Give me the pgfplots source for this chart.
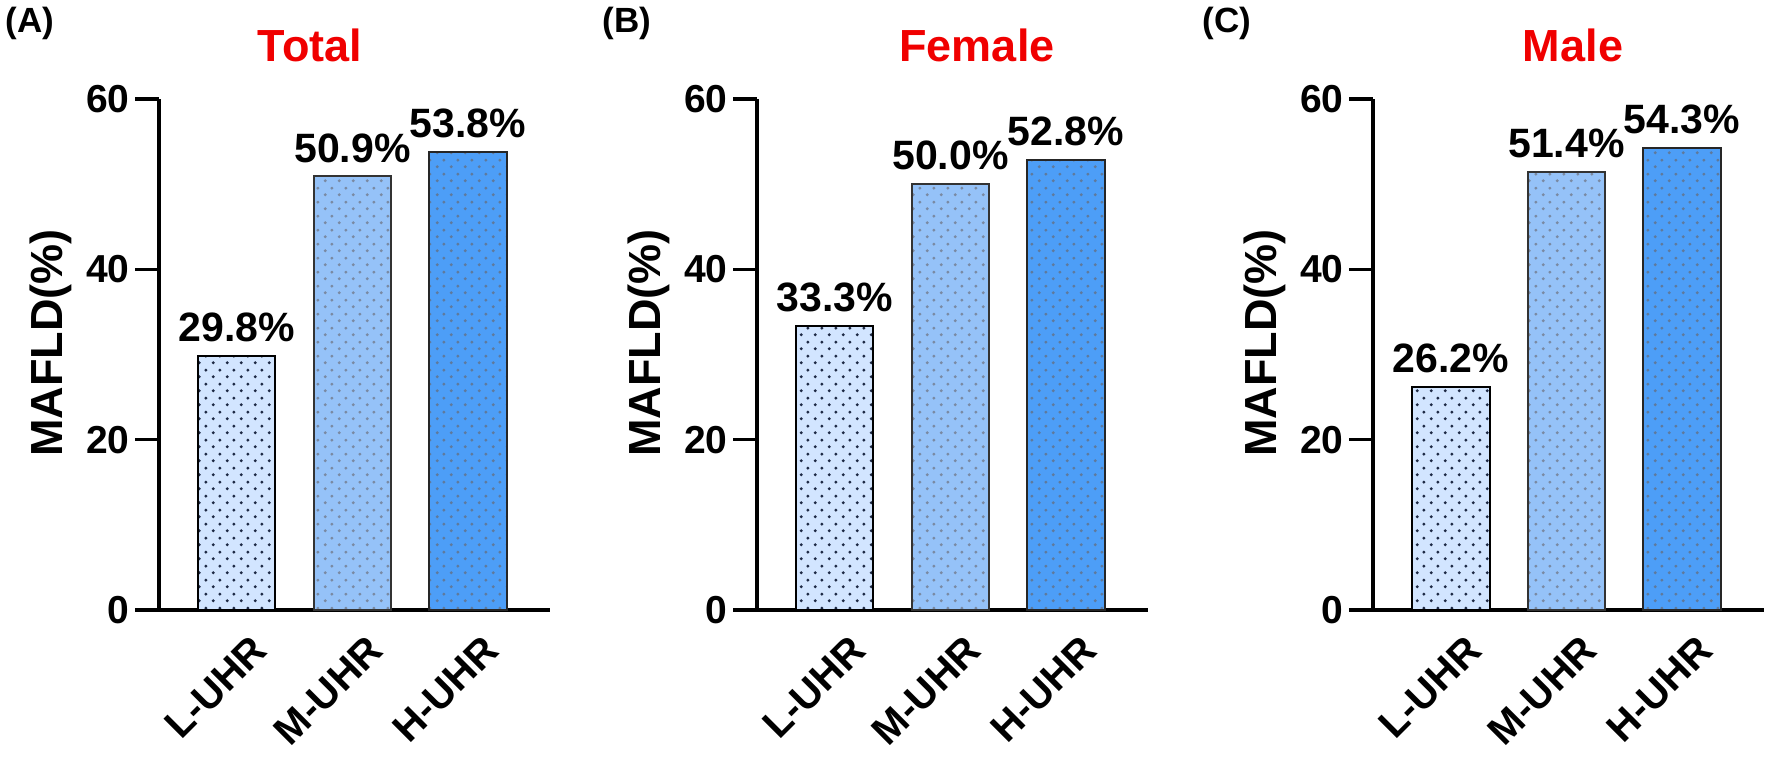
\documentclass[border=0pt]{standalone}
\usepackage{fontspec}
\setmainfont{Liberation Sans}
\usepackage{pgfplots}
\pgfplotsset{compat=1.18}
\usetikzlibrary{patterns,patterns.meta}

\definecolor{Lfill}{HTML}{D2E5FF}
\definecolor{Ldot}{HTML}{1E2A45}
\definecolor{Mfill}{HTML}{95C2F8}
\definecolor{Mdot}{HTML}{7A8AA3}
\definecolor{Hfill}{HTML}{4D9EF7}
\definecolor{Hdot}{HTML}{5F7A9C}
\definecolor{titlered}{HTML}{F00000}

\tikzdeclarepattern{
  name=bardots,
  type=uncolored,
  bottom left={(0pt,0pt)},
  top right={(7pt,7pt)},
  tile size={(7pt,7pt)},
  code={
    \fill (1.75pt,1.75pt) circle (0.85pt);
    \fill (5.25pt,5.25pt) circle (0.85pt);
  }
}

\newcommand{\xlab}[2]{%
  \node[font=\bfseries\fontsize{20}{20}\selectfont, inner sep=0pt, anchor=north east, rotate=45]
    at ([xshift=6.5pt,yshift=-11.5pt]axis cs:#1,0) {#2};}

\pgfplotsset{
  panel/.style={
    width=195.5pt, height=255.5pt, scale only axis,
    anchor=south west,
    xmin=-0.675, xmax=2.71, ymin=0, ymax=60,
    axis x line=bottom, axis y line=left,
    axis line style={-, line width=1.8pt, black},
    ytick={0,20,40,60},
    xtick=\empty,
    tick align=outside, major tick length=12pt,
    ytick style={line width=1.8pt, black},
    /pgf/number format/assume math mode=true,
    yticklabel style={font=\bfseries\fontsize{19.5}{19.5}\selectfont, inner sep=0pt, anchor=east, xshift=-2.5pt},
    ylabel={MAFLD(\%)},
    ylabel style={font=\bfseries\fontsize{22.5}{22.5}\selectfont, at={(axis description cs:-0.248,0.5225)}, anchor=base, inner sep=0pt},
    ybar, bar width=0.667,
    clip=false,
    nodes near coords={\pgfmathprintnumber[fixed, fixed zerofill, precision=1, assume math mode=true]{\pgfplotspointmeta}\%},
    every node near coord/.append style={font=\bfseries\fontsize{20.5}{20.5}\selectfont, text=black, anchor=south, inner sep=0pt, yshift=6.5pt},
  },
  Lbar/.style={bar shift=0pt, fill=Lfill, draw=black, line width=1pt, postaction={pattern=bardots, pattern color=Ldot}},
  Mbar/.style={bar shift=0pt, fill=Mfill, draw=black!80, line width=1pt, postaction={pattern=bardots, pattern color=Mdot}},
  Hbar/.style={bar shift=0pt, fill=Hfill, draw=black!85, line width=1pt, postaction={pattern=bardots, pattern color=Hdot}},
}

\begin{document}
\begin{tikzpicture}
\useasboundingbox (0,0) rectangle (886.5pt,379pt);

% Panel A: Total
\begin{axis}[panel, at={(79.5pt,74pt)}]
\addplot[Lbar] coordinates {(0,29.8)};
\addplot[Mbar] coordinates {(1,50.9)};
\addplot[Hbar] coordinates {(2,53.8)};
\xlab{0}{L-UHR}\xlab{1}{M-UHR}\xlab{2}{H-UHR}
\end{axis}

% Panel B: Female
\begin{axis}[panel, at={(378.5pt,74pt)}]
\addplot[Lbar] coordinates {(0,33.3)};
\addplot[Mbar] coordinates {(1,50.0)};
\addplot[Hbar] coordinates {(2,52.8)};
\xlab{0}{L-UHR}\xlab{1}{M-UHR}\xlab{2}{H-UHR}
\end{axis}

% Panel C: Male
\begin{axis}[panel, at={(686.5pt,74pt)}]
\addplot[Lbar] coordinates {(0,26.2)};
\addplot[Mbar] coordinates {(1,51.4)};
\addplot[Hbar] coordinates {(2,54.3)};
\xlab{0}{L-UHR}\xlab{1}{M-UHR}\xlab{2}{H-UHR}
\end{axis}

\begin{scope}[every node/.style={inner sep=0pt}]
\node[anchor=base west, font=\bfseries\fontsize{17.5}{17.5}\selectfont] at (2.5pt,362.5pt) {(A)};
\node[anchor=base west, font=\bfseries\fontsize{17.5}{17.5}\selectfont] at (301pt,362.5pt) {(B)};
\node[anchor=base west, font=\bfseries\fontsize{17.5}{17.5}\selectfont] at (601pt,362.5pt) {(C)};
\node[anchor=base, text=titlered, font=\bfseries\fontsize{22.5}{22.5}\selectfont] at (155pt,348pt) {Total};
\node[anchor=base, text=titlered, font=\bfseries\fontsize{22.5}{22.5}\selectfont] at (488.5pt,348pt) {Female};
\node[anchor=base, text=titlered, font=\bfseries\fontsize{22.5}{22.5}\selectfont] at (786.5pt,348pt) {Male};
\end{scope}
\end{tikzpicture}
\end{document}
